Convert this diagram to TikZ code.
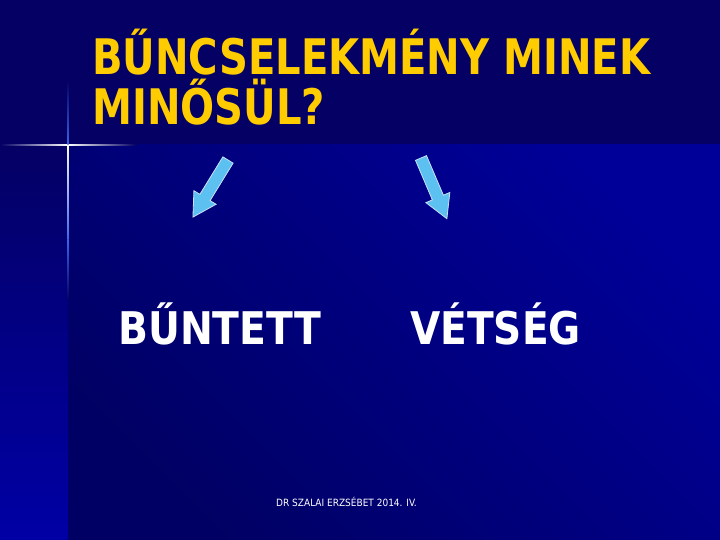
\documentclass[tikz,border=0pt]{standalone}
\usepackage{fontspec}
\setmainfont{DejaVu Sans Condensed}
\definecolor{band}{RGB}{4,0,100}
\definecolor{mainDark}{RGB}{0,0,100}
\definecolor{mainBright}{RGB}{0,0,152}
\definecolor{stripBright}{RGB}{0,0,165}
\definecolor{titleyellow}{RGB}{255,204,0}
\definecolor{arrowfill}{RGB}{92,192,240}
\definecolor{arrowline}{RGB}{200,225,245}
\definecolor{glow}{RGB}{60,100,230}
\tikzset{
  titletext/.style={anchor=base west, inner sep=0pt, text=titleyellow,
    font=\fontsize{49}{58}\selectfont\bfseries},
  labeltext/.style={anchor=base west, inner sep=0pt, text=white,
    font=\fontsize{45}{54}\selectfont\bfseries},
  foottext/.style={anchor=base west, inner sep=0pt, text=white,
    font=\fontsize{10}{12}\selectfont},
  blockarrow/.style={fill=arrowfill, draw=arrowline, line width=0.8pt, line join=miter}
}
\begin{document}
\begin{tikzpicture}[x=1pt,y=1pt]
\useasboundingbox (0,0) rectangle (720,540);
% background
\fill[band] (0,0) rectangle (720,540);
\shade[bottom color=mainDark, top color=mainBright, shading angle=-45] (68,0) rectangle (720,395);
\shade[top color=band, bottom color=stripBright] (0,0) rectangle (68,395);
% sparkle
\shade[left color=band, right color=band, middle color=white] (0,394.4) rectangle (136,395.6);
\shade[top color=white, bottom color=glow] (67.4,395) rectangle (68.6,300);
\shade[top color=glow, bottom color=band] (67.4,300) rectangle (68.6,240);
\shade[top color=band, bottom color=glow] (67.4,460) rectangle (68.6,395);
% title
\node[titletext] (t1) at (92,465) {\scalebox{0.91}[1]{BŰNCSELEKMÉNY MINEK}};
\node[titletext] (t2) at (92,415) {\scalebox{0.91}[1]{MINŐSÜL?}};
% arrows
\begin{scope}[shift={(228,380)}, rotate=238.45]
  \path[blockarrow] (0,-6) -- (44,-6) -- (44,-13) -- (67,0) -- (44,13) -- (44,6) -- (0,6) -- cycle;
\end{scope}
\begin{scope}[shift={(421,382)}, rotate=293.1]
  \path[blockarrow] (0,-6) -- (43,-6) -- (43,-13) -- (66,0) -- (43,13) -- (43,6) -- (0,6) -- cycle;
\end{scope}
% labels
\node[labeltext] (buntett) at (118,195) {\scalebox{0.97}[1]{BŰNTETT}};
\node[labeltext] (vetseg) at (410,195) {\scalebox{0.966}[1]{VÉTSÉG}};
% footer
\node[foottext] (foot) at (276,33) {DR SZALAI ERZSÉBET 2014. IV.};
\end{tikzpicture}
\end{document}
